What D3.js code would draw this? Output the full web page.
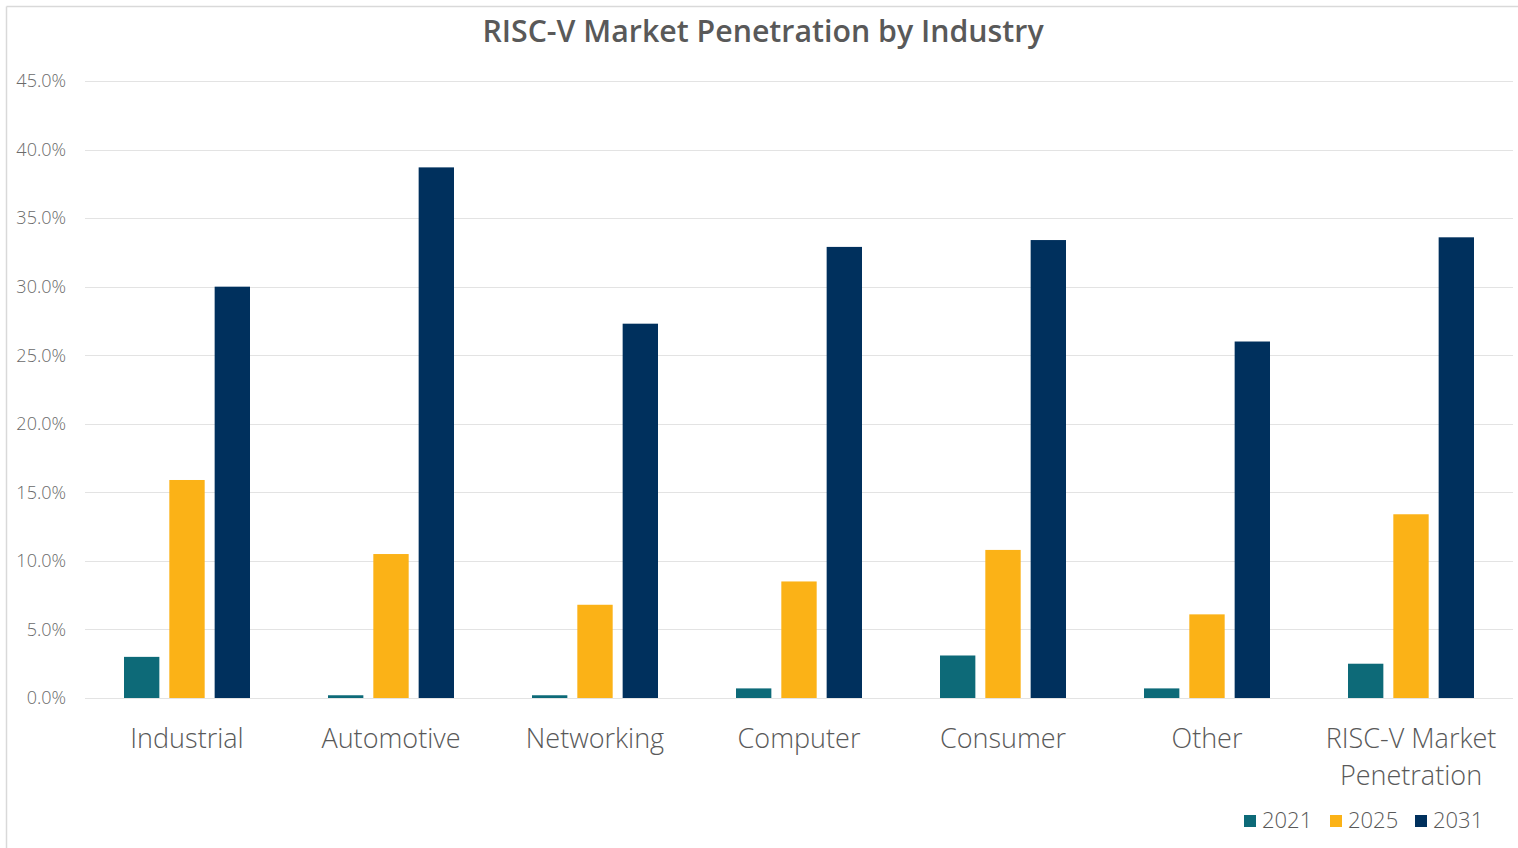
<!DOCTYPE html>
<html><head><meta charset="utf-8">
<script src="https://cdn.jsdelivr.net/npm/d3@7"></script>
<style>
html,body{margin:0;padding:0;background:#fff;}
svg{display:block;font-family:"Open Sans",sans-serif;}
</style></head>
<body>
<svg id="c" width="1518" height="848"></svg>
<script>
const title = "RISC-V Market Penetration by Industry";
const categories = ["Industrial","Automotive","Networking","Computer","Consumer","Other","RISC-V Market Penetration"];
const seriesNames = ["2021","2025","2031"];
const values2021 = [3.0, 0.2, 0.2, 0.7, 3.1, 0.7, 2.5];
const values2025 = [15.9, 10.5, 6.8, 8.5, 10.8, 6.1, 13.4];
const values2031 = [30.0, 38.7, 27.3, 32.9, 33.4, 26.0, 33.6];
const yTicks = [0,5,10,15,20,25,30,35,40,45];
const colors = ["#0d6a78","#fbb217","#00305d"];

(function(){
const svg = d3.select("#c");
// frame
svg.append("line").attr("x1",6.5).attr("x2",1518).attr("y1",6.5).attr("y2",6.5).attr("stroke","#d9d9d9").attr("stroke-width",1.5);
svg.append("line").attr("x1",6.5).attr("x2",6.5).attr("y1",6.5).attr("y2",848).attr("stroke","#d9d9d9").attr("stroke-width",1.5);

const pLeft = 85, pRight = 1513, pTop = 81, pBottom = 698;
const x = d3.scaleBand().domain(categories).range([pLeft,pRight]).paddingInner(0).paddingOuter(0);
const y = d3.scaleLinear().domain([0,45]).range([pBottom,pTop]);
const xs = d3.scaleBand().domain(seriesNames).range([0,126]).paddingInner(0.22);

// grid
const g = svg.append("g");
g.selectAll("line.grid").data(yTicks).join("line")
  .attr("x1",pLeft).attr("x2",pRight)
  .attr("y1",d=>Math.round(y(d))+0.5).attr("y2",d=>Math.round(y(d))+0.5)
  .attr("stroke","#e3e3e3").attr("stroke-width",1);

// y labels
g.selectAll("text.yl").data(yTicks).join("text")
  .attr("x",66).attr("y",d=>y(d)).attr("dy","0.35em")
  .attr("text-anchor","end").attr("font-size",18).attr("font-weight",300).attr("fill","#6a6a6a")
  .text(d=>d.toFixed(1)+"%");

// bars
const series = [values2021, values2025, values2031];
series.forEach((vals,si)=>{
  svg.append("g").selectAll("rect").data(categories).join("rect")
    .attr("x",(c)=>x(c)+x.bandwidth()/2-63+xs(seriesNames[si]))
    .attr("width",xs.bandwidth())
    .attr("y",(c,i)=>y(vals[i]))
    .attr("height",(c,i)=>pBottom-y(vals[i]))
    .attr("fill",colors[si]);
});

// x labels
categories.forEach(c=>{
  const cx = x(c)+x.bandwidth()/2;
  const lines = c==="RISC-V Market Penetration" ? ["RISC-V Market","Penetration"] : [c];
  const t = svg.append("text").attr("text-anchor","middle").attr("font-size",27)
    .attr("font-weight",300).attr("fill","#595959");
  lines.forEach((l,i)=>{
    t.append("tspan").attr("x",cx).attr("y",748+i*37).text(l);
  });
});

// title
svg.append("text").attr("x",763).attr("y",42).attr("text-anchor","middle")
  .attr("font-size",30.3).attr("font-weight",600).attr("fill","#595959").text(title);

// legend
const legX = [1244,1330,1415];
seriesNames.forEach((s,i)=>{
  svg.append("rect").attr("x",legX[i]).attr("y",815).attr("width",12).attr("height",12).attr("fill",colors[i]);
  svg.append("text").attr("x",legX[i]+18).attr("y",828).attr("font-size",22).attr("font-weight",300)
    .attr("fill","#595959").text(s);
});
})();
</script>
</body></html>
